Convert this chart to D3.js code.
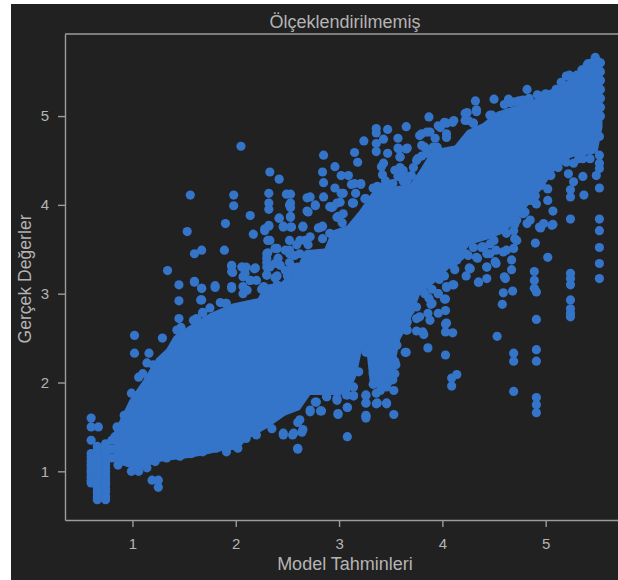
<!DOCTYPE html>
<html><head><meta charset="utf-8">
<script src="https://cdn.jsdelivr.net/npm/d3@7"></script>
<style>html,body{margin:0;background:#fff}svg{display:block}text{font-family:"Liberation Sans",Arial,sans-serif}</style>
</head><body><div id="c"></div>
<script>
const titleText = "Ölçeklendirilmemiş";
const xLabel = "Model Tahminleri";
const yLabel = "Gerçek Değerler";
const xTicks = [1,2,3,4,5];
const yTicks = [1,2,3,4,5];

// Outline of the saturated central band
const upperX = [0.82,0.97,1.10,1.23,1.33,1.40,1.55,1.75,1.97,2.215,2.28,2.43,2.59,2.67,2.86,2.93,3.08,3.20,3.33,3.69,3.78,3.90,4.12,4.24,4.39,4.53,4.72,4.91,5.16,5.40,5.48,5.55];
const upperY = [1.44,1.80,2.02,2.27,2.38,2.52,2.64,2.78,2.89,2.95,3.10,3.12,3.29,3.49,3.51,3.71,3.77,3.94,4.16,4.24,4.39,4.62,4.67,4.84,4.92,5.05,5.12,5.20,5.36,5.55,5.60,5.58];
const lowerX = [0.82,1.00,1.10,1.23,1.33,1.55,1.68,1.91,2.02,2.10,2.31,2.48,2.62,2.72,3.01,3.10,3.17,3.22,3.27,3.30,3.51,3.55,3.59,3.69,3.78,3.93,4.07,4.27,4.46,4.61,4.75,4.95,5.14,5.26,5.50,5.55];
const lowerY = [1.10,1.03,1.03,1.10,1.12,1.15,1.18,1.24,1.24,1.35,1.49,1.63,1.69,1.86,1.86,1.89,2.08,2.36,2.30,1.97,1.97,2.25,2.48,2.70,2.98,3.13,3.29,3.55,3.62,3.69,3.88,4.16,4.47,4.54,4.58,4.87];

// Individually visible points: model prediction and true value
const outlierPred = [
2.05,2.33,2.42,1.56,1.98,1.98,2.32,2.32,2.32,2.49,2.53,2.53,2.53,2.69,2.69,2.42,2.14,1.90,1.53,2.17,2.28,2.32,2.46,2.53,2.53,2.65,
1.60,1.67,1.89,1.34,1.45,1.60,1.67,1.80,1.96,1.96,2.06,2.10,2.18,2.09,2.14,2.30,2.30,2.33,2.38,2.38,2.48,
1.96,2.07,2.27,2.30,2.30,2.30,2.52,2.52,2.52,2.52,2.40,2.40,2.60,2.60,2.60,
2.85,3.15,3.18,2.96,2.84,3.02,3.09,2.85,3.12,3.21,2.96,3.02,3.16,2.85,3.26,2.72,2.77,2.91,2.98,3.14,3.04,2.99,2.83,2.94,
3.24,3.36,3.36,3.47,3.65,3.43,3.57,3.36,3.36,3.47,3.58,3.65,3.59,3.43,3.41,3.42,3.56,3.62,3.57,3.65,
3.87,3.80,3.85,3.96,4.02,4.11,3.93,3.83,3.75,3.91,4.04,4.32,4.50,4.64,4.70,4.78,4.82,4.22,4.33,4.25,4.30,4.48,4.98,5.06,5.23,5.41,5.48,
5.52,5.52,5.52,5.52,5.52,5.52,5.24,5.24,5.24,5.24,5.37,5.24,5.24,5.27,5.22,5.36,5.49,5.52,5.52,5.52,5.52,5.36,5.27,5.17,
5.02,5.02,5.07,5.07,4.98,4.94,4.85,4.78,4.65,4.90,5.02,4.89,4.89,4.89,4.69,4.72,4.69,4.62,4.52,4.46,4.39,4.33,4.23,4.14,4.43,4.51,4.67,4.67,4.60,4.35,4.27,4.23,4.11,4.04,4.43,4.12,4.91,4.85,4.59,4.72,
4.59,4.68,4.91,4.58,5.24,5.24,5.24,5.24,4.91,4.53,4.69,4.69,4.91,4.91,4.69,4.91,4.91,4.91,4.14,4.09,4.09,4.03,4.10,4.03,4.03,4.03,3.96,4.02,3.90,3.87,3.86,3.88,3.81,3.75,3.82,3.65,3.86,3.65,3.65,
3.26,3.55,3.52,3.53,3.46,3.53,3.26,3.26,3.26,3.26,3.36,3.36,3.14,3.07,3.08,2.99,3.08,2.82,2.77,2.98,2.88,2.72,3.14,3.04,3.19,3.56,3.49,3.96,3.60,3.69,3.78,3.33,3.40,3.49,3.40,3.46,3.40,3.33,2.88,2.98,2.91,
1.02,1.02,1.29,0.60,0.60,0.67,0.60,0.92,1.45,1.45,2.60,1.25,1.25,1.19,1.66,1.68,1.59,1.43,1.16,1.20,1.06,0.99,0.85,0.83,1.91,2.07,
0.60,0.60,0.60,0.60,0.60,0.66,0.66,0.66,0.66,0.66,0.66,0.66,0.66,0.66,0.74,0.74,0.74,0.74,0.74,0.74,0.74,0.74,0.74,
0.86,0.99,1.06,1.14,1.22,1.33,1.46,1.57,1.68,1.81,1.91,2.02,2.10,2.20,2.35,2.46,2.56,2.65,2.62,2.72,
5.53,5.53,5.53,5.53,5.53,5.53,5.53,5.50,5.45,5.40,5.35,5.30];
const outlierTrue = [
4.66,4.37,4.29,4.11,4.11,3.99,4.13,4.02,3.95,4.12,4.12,4.02,3.97,4.08,3.93,3.85,3.88,3.79,3.70,3.67,3.73,3.76,3.76,3.87,3.75,3.75,
3.45,3.49,3.49,3.26,3.10,3.14,3.06,3.09,3.31,3.25,3.30,3.30,3.28,3.23,3.15,3.21,3.45,3.60,3.51,3.34,3.49,
3.08,3.08,3.08,3.40,3.35,3.30,3.45,3.35,3.25,3.15,3.20,3.10,3.30,3.20,3.10,
4.56,4.59,4.48,4.43,4.37,4.33,4.33,4.25,4.23,4.23,4.19,4.13,4.13,4.09,4.07,4.09,3.99,3.98,4.02,4.02,3.90,3.87,3.75,3.98,
4.72,4.86,4.81,4.85,4.88,4.74,4.75,4.69,4.60,4.58,4.63,4.63,4.54,4.47,4.43,4.34,4.39,4.39,4.32,4.32,
4.99,4.80,4.82,4.89,4.93,4.95,4.75,4.65,4.50,4.65,4.80,5.17,5.19,5.19,5.16,5.18,5.30,5.03,5.07,4.95,4.92,5.01,5.23,5.25,5.46,5.59,5.66,
4.19,3.84,3.71,3.52,3.34,3.17,3.84,3.23,3.17,3.10,4.11,4.09,4.17,4.26,4.35,4.32,4.33,4.47,4.41,4.56,4.77,4.52,4.47,4.50,
4.05,4.18,3.93,3.78,3.79,3.75,3.83,3.90,3.87,3.57,3.41,3.25,3.15,3.06,3.71,3.60,3.51,3.49,3.49,3.56,3.53,3.41,3.45,3.38,3.45,3.36,3.38,3.27,3.19,3.13,3.28,3.20,3.10,3.08,3.30,3.27,4.01,4.05,3.85,3.83,
3.01,3.03,3.02,2.88,2.93,2.83,2.78,2.74,2.71,2.52,2.33,2.24,2.37,2.24,1.90,1.83,1.75,1.66,2.09,2.05,1.96,2.31,2.56,2.57,2.66,2.81,2.78,2.94,2.89,2.95,2.78,2.70,2.57,2.58,2.54,2.34,2.39,2.66,2.59,
2.35,2.20,2.03,1.91,1.76,1.64,1.85,1.77,1.63,1.60,1.76,1.88,1.85,1.86,1.72,1.64,1.39,1.68,1.78,1.82,1.84,1.91,1.95,1.99,2.12,2.42,2.59,3.00,2.78,2.81,2.74,2.10,2.10,2.10,1.91,1.95,1.98,1.98,1.91,1.91,1.99,
2.53,2.33,2.50,1.60,1.50,1.50,1.35,1.63,2.92,2.72,1.25,0.82,0.90,0.90,2.93,2.78,2.70,2.59,2.33,2.20,2.06,1.88,1.50,1.39,2.89,3.00,
1.20,1.12,1.05,0.98,0.90,1.28,1.20,1.12,1.05,0.98,0.90,0.82,0.75,0.68,1.31,1.24,1.15,1.08,1.00,0.92,0.85,0.77,0.68,
1.07,1.00,1.00,1.04,1.11,1.15,1.17,1.20,1.22,1.26,1.22,1.26,1.37,1.41,1.48,1.43,1.43,1.47,1.58,1.67,
5.60,5.50,5.40,5.30,5.20,5.10,5.00,5.62,5.60,5.57,5.52,5.46];

// Further points along the jagged edges of the band, as [prediction, true value]
const edgePoints = [
[1.96,3.32],[2.06,3.30],[2.19,3.29],[1.97,3.24],[2.07,3.19],[2.14,3.15],[1.96,3.06],[2.11,3.04],[1.90,2.89],[1.80,3.07],[1.67,3.06],[1.60,3.13],[1.67,2.93],[1.68,2.79],
[2.31,3.60],[2.31,3.46],[2.33,3.30],[2.30,3.21],[2.40,3.51],[2.41,3.40],[2.52,3.49],[2.52,3.60],[2.54,3.75],[2.28,3.71],[2.32,3.77],[2.42,3.85],[2.46,3.75],[2.65,3.76],[2.53,3.86],[2.52,4.00],[2.70,3.92],[2.77,4.00],[2.72,3.64],[2.80,3.74],[2.84,3.76],[2.84,3.62],[2.93,3.97],[3.01,4.03],[2.98,3.86],[3.03,3.80],[3.13,4.02],[2.91,3.68],
[2.48,3.26],[2.57,3.43],[2.43,3.32],[2.62,3.60],[2.67,3.60],[2.59,3.55],
[3.78,4.78],[3.88,4.82],[3.98,4.87],[4.04,4.92],[4.10,4.93],[3.80,4.67],[3.95,4.65],[4.04,4.76],[4.24,5.04],[4.33,5.05],[4.22,4.95],[4.30,4.92],[4.46,5.01],
[3.57,4.64],[3.66,4.64],[3.59,4.54],[3.59,4.42],[3.62,4.36],[3.54,4.39],[3.66,4.28],[3.76,4.52],
[3.33,4.19],[3.42,4.20],[3.49,4.19],[3.15,4.24],[3.21,4.24],[3.25,4.07],[3.13,4.02],[3.04,4.13],
[4.26,3.29],[4.59,3.47],[4.46,3.45],[4.40,3.52],[4.70,3.62],[4.95,3.74],[5.06,3.77],[4.82,3.79],[4.52,3.34],[4.43,3.30],[4.43,3.17],[4.35,3.13],[4.61,3.17],[4.10,3.10],[4.04,3.07],[4.34,3.40],[4.25,3.43],[4.12,3.37],
[3.96,3.00],[4.03,2.94],[3.89,2.88],[3.75,2.85],[3.69,2.85],[3.66,2.68],[3.66,2.59],[3.75,2.72],[4.04,2.67],
[3.26,2.34],[2.83,1.68],[2.99,1.65],[3.08,1.72],[3.26,1.62],[3.26,1.86],[3.26,1.77],[3.37,1.77],[3.46,1.77],[3.08,1.86],[3.14,1.85],[2.98,1.80],[2.88,1.84],[2.78,1.78],[2.72,1.69],[2.64,1.44],[2.60,1.26],[2.55,1.41],[2.46,1.41],[2.60,1.55],[3.54,2.24],[3.54,2.10],[3.64,2.34],[3.64,2.62],
[0.60,1.16],[0.60,1.08],[0.60,1.01],[0.60,0.94],[0.60,0.87],
[0.66,1.24],[0.66,1.16],[0.66,1.08],[0.66,1.01],[0.66,0.94],[0.66,0.86],[0.66,0.78],[0.66,0.71],
[0.74,1.27],[0.74,1.19],[0.74,1.11],[0.74,1.04],[0.74,0.96],[0.74,0.88],[0.74,0.80],[0.74,0.72],
[0.80,1.15],[0.80,1.25],[0.80,1.35],
[4.60,5.13],[4.66,5.15],[4.74,5.17],[4.84,5.20],[4.92,5.24],[5.00,5.25],[5.10,5.30],[5.15,5.38],[5.20,5.45],[5.25,5.44],[5.30,5.42],[5.36,5.50],
[3.37,4.21],[3.45,4.27],[3.52,4.24],[3.62,4.27],[3.70,4.33],[3.72,4.42],[3.80,4.55],[3.85,4.58],
[2.25,3.05],[2.20,3.15],[2.38,3.18],[2.50,3.20],[2.55,3.30],[2.62,3.45],[2.70,3.55],
[4.30,3.52],[4.38,3.52],[4.50,3.60],[4.62,3.68],[4.70,3.78],[4.80,3.92],[4.90,4.10],[4.96,4.22],[5.05,4.33],[5.12,4.42],[5.20,4.48],[5.32,4.52],[5.43,4.52],
[3.83,3.00],[3.90,3.05],[3.97,3.16],[4.02,3.20],[4.10,3.32],[4.17,3.42],
[1.47,2.62],[1.62,2.72],[1.75,2.84],[1.85,2.90],[1.10,2.10],[1.14,2.22]];

const W = 618, H = 580;
const x = d3.scaleLinear().domain([0.347, 5.70]).range([65, 618]);
const y = d3.scaleLinear().domain([0.452, 5.924]).range([520, 34]);
const dotColor = "#3474c9", axisColor = "#9c9c9c", textColor = "#b4b4b4", bg = "#212121";

const svg = d3.select("#c").append("svg").attr("width", W).attr("height", H);
svg.append("rect").attr("x", 11).attr("y", 4).attr("width", W - 11).attr("height", H - 4).attr("fill", bg);

const outline = upperX.map((v, i) => [v, upperY[i]]).concat(lowerX.map((v, i) => [v, lowerY[i]]).reverse());
svg.append("path").attr("fill", dotColor)
  .attr("d", d3.line().x(d => x(d[0])).y(d => y(d[1]))(outline) + "Z");

const allPoints = outlierPred.map((v, i) => [v, outlierTrue[i]]).concat(edgePoints);
svg.append("g").selectAll("circle").data(allPoints).join("circle")
  .attr("cx", d => x(d[0])).attr("cy", d => y(d[1])).attr("r", 4.6).attr("fill", dotColor);

const gx = svg.append("g").attr("transform", "translate(0,520)")
  .call(d3.axisBottom(x).tickValues(xTicks).tickFormat(d3.format("d")).tickSize(7).tickSizeOuter(0).tickPadding(11));
const gy = svg.append("g").attr("transform", "translate(65,0)")
  .call(d3.axisLeft(y).tickValues(yTicks).tickFormat(d3.format("d")).tickSize(7).tickSizeOuter(0).tickPadding(9));
svg.append("line").attr("x1", 65).attr("x2", W).attr("y1", 34).attr("y2", 34).attr("stroke", axisColor).attr("stroke-width", 1.4);
[gx, gy].forEach(g => {
  g.selectAll(".domain,line").attr("stroke", axisColor).attr("stroke-width", 1.4);
  g.selectAll("text").attr("fill", textColor).attr("font-size", 15).attr("font-family", '"Liberation Sans",Arial,sans-serif');
});

svg.append("text").attr("x", 345).attr("y", 28).attr("text-anchor", "middle").attr("fill", textColor).attr("font-size", 18).text(titleText);
svg.append("text").attr("x", 345).attr("y", 570).attr("text-anchor", "middle").attr("fill", textColor).attr("font-size", 18).text(xLabel);
svg.append("text").attr("transform", "translate(31,279) rotate(-90)").attr("text-anchor", "middle").attr("fill", textColor).attr("font-size", 17.6).text(yLabel);
</script></body></html>
